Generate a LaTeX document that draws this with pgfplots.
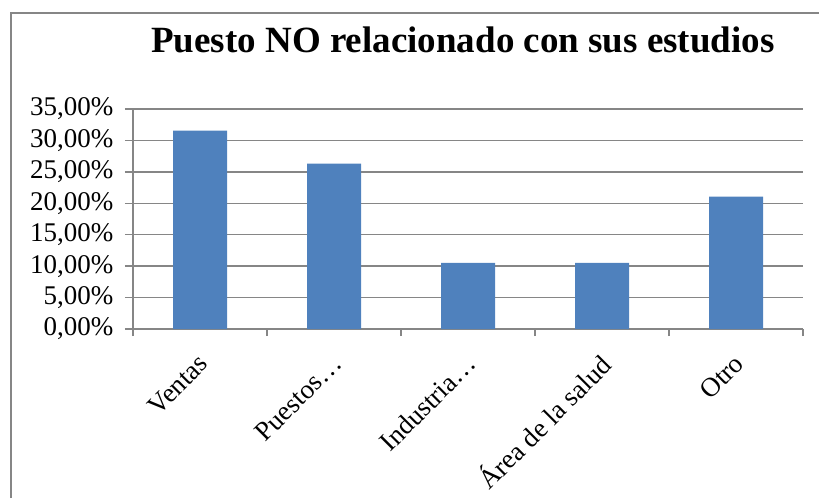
\documentclass[border=0pt]{standalone}
\usepackage{fontspec}
\setmainfont{Liberation Serif}
\usepackage{pgfplots}
\pgfplotsset{compat=1.18}
\definecolor{barblue}{RGB}{79,129,189}
\definecolor{gridgray}{RGB}{134,134,134}
\begin{document}
\begin{tikzpicture}[x=1pt,y=1pt]
\path[use as bounding box] (0,0) rectangle (819,-498);
\draw[gridgray, line width=1.5pt] (11,-498) -- (11,-13) -- (819,-13);
\node[font=\fontsize{37}{40}\selectfont\bfseries, anchor=base, inner sep=0pt] at (463,-52) {Puesto NO relacionado con sus estudios};
\begin{axis}[
  at={(133pt,-329pt)}, anchor=south west,
  scale only axis, width=670pt, height=220pt,
  xmin=-0.5, xmax=4.5, ymin=0, ymax=35,
  axis x line*=bottom, axis y line*=left,
  axis line style={gridgray, line width=1.3pt},
  ytick={0,5,...,35},
  yticklabels={{0,00\%},{5,00\%},{10,00\%},{15,00\%},{20,00\%},{25,00\%},{30,00\%},{35,00\%}},
  xtick={0,1,2,3,4},
  xticklabels={Ventas,Puestos…,Industria…,Área de la salud,Otro},
  minor xtick={-0.5,0.5,1.5,2.5,3.5,4.5},
  major x tick style={draw=none},
  minor x tick style={draw=gridgray, line width=1.3pt},
  major y tick style={draw=gridgray, line width=1.3pt},
  tick align=outside,
  major tick length=8pt, minor tick length=7pt,
  ymajorgrids, xmajorgrids=false,
  major grid style={gridgray, line width=1.3pt},
  ticklabel style={font=\fontsize{27}{30}\selectfont, text=black},
  yticklabel style={xshift=-8pt},
  xticklabel style={rotate=45, anchor=east, xshift=-10pt, yshift=-18pt},
]
\addplot[ybar, bar width=54pt, fill=barblue, draw=none] coordinates {(0,31.58) (1,26.32) (2,10.53) (3,10.53) (4,21.05)};
\end{axis}
\end{tikzpicture}
\end{document}
